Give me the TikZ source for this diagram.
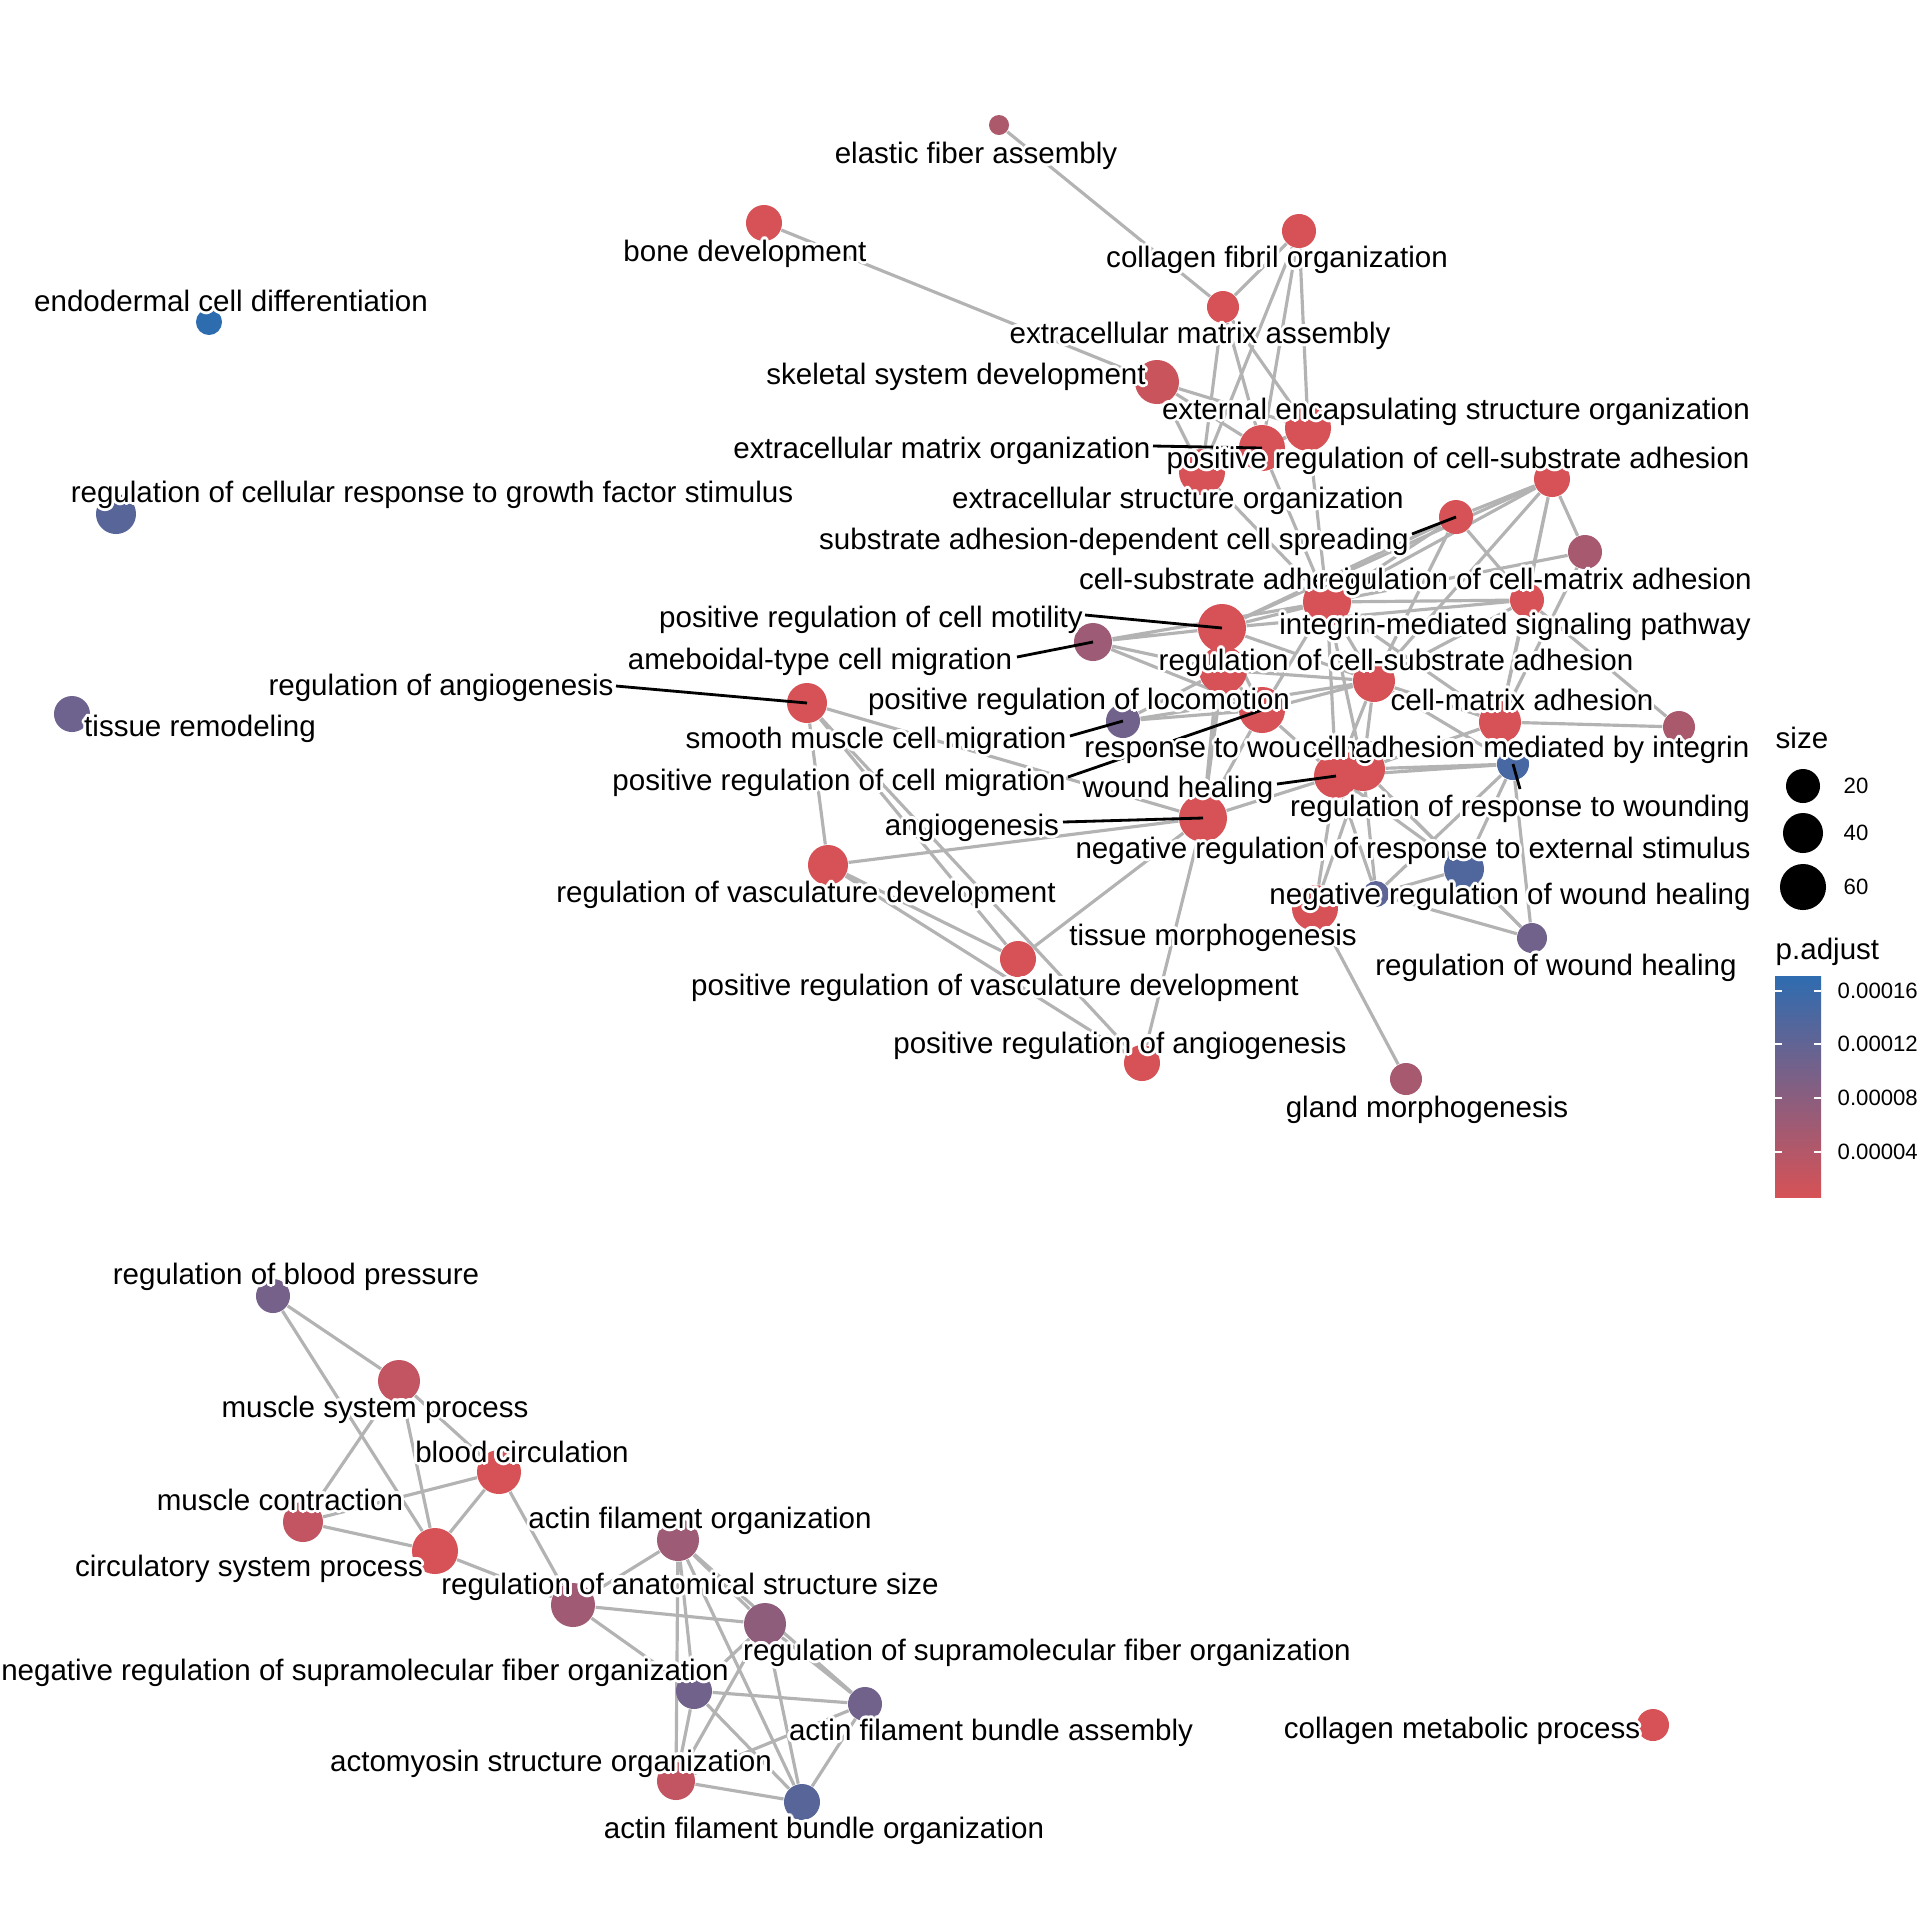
\documentclass[tikz,border=0pt]{standalone}
\usepackage{fontspec}
\setmainfont{Liberation Sans}
\usepackage[copies]{contour}
\contourlength{0.8pt}
\usetikzlibrary{backgrounds}
\definecolor{plow}{RGB}{214,82,86}
\definecolor{phigh}{RGB}{46,108,176}
\definecolor{edgegray}{RGB}{179,179,179}
\newcommand{\halo}[1]{\contour{white}{#1}}

\begin{document}
\begin{tikzpicture}[x=0.01cm, y=-0.01cm,
        gonode/.style 2 args={circle, fill=#1, inner sep=0pt, minimum size=#2*0.02cm},
        edge/.style={draw=edgegray, line width=0.9pt},
        leader/.style={draw=black, line width=0.8pt},
        golabel/.style={font=\fontsize{8.4}{10}\selectfont, inner sep=0pt, text height=6pt, text depth=1.6pt, yshift=-1pt},
        legtext/.style={font=\fontsize{6.3}{7.5}\selectfont, inner sep=0pt, anchor=west}
    ]
        \useasboundingbox (0,0) rectangle (1920,1920);

        % Upper cluster: nodes
        \node[gonode={plow!75!phigh}{10}] (efa) at (999,125) {};
        \node[gonode={plow}{18}] (bone) at (764,223) {};
        \node[gonode={plow}{17}] (cfo) at (1299,231) {};
        \node[gonode={plow}{16}] (ema) at (1223,307) {};
        \node[gonode={plow!93!phigh}{22}] (ssd) at (1157,382) {};
        \node[gonode={plow}{23}] (eeso) at (1308,428) {};
        \node[gonode={plow}{23}] (emo) at (1262,448) {};
        \node[gonode={plow}{23}] (eso) at (1202,472) {};
        \node[gonode={plow}{18}] (prcsa) at (1552,479) {};
        \node[gonode={plow}{17}] (sadcs) at (1456,517) {};
        \node[gonode={plow!72!phigh}{17}] (rcma) at (1585,552) {};
        \node[gonode={plow}{24}] (csa) at (1327,602) {};
        \node[gonode={plow}{17}] (imsp) at (1527,600) {};
        \node[gonode={plow}{24}] (prcm) at (1222,628) {};
        \node[gonode={plow!66!phigh}{19}] (atcm) at (1093,642) {};
        \node[gonode={plow}{24}] (prl) at (1223,670) {};
        \node[gonode={plow}{21}] (rcsa) at (1374,681) {};
        \node[gonode={plow}{23}] (prcmig) at (1262,710) {};
        \node[gonode={plow}{21}] (cma) at (1500,722) {};
        \node[gonode={plow!74!phigh}{16}] (camI) at (1679,727) {};
        \node[gonode={plow!40!phigh}{17}] (smcm) at (1123,721) {};
        \node[gonode={plow}{22}] (rw) at (1363,769) {};
        \node[gonode={plow}{22}] (wh) at (1336,776) {};
        \node[gonode={plow!15!phigh}{16}] (rrw) at (1513,764) {};
        \node[gonode={plow}{24}] (ang) at (1203,818) {};
        \node[gonode={plow!20!phigh}{20}] (nrres) at (1464,869) {};
        \node[gonode={plow!28!phigh}{13}] (nrwh) at (1376,894) {};
        \node[gonode={plow}{23}] (tm) at (1315,908) {};
        \node[gonode={plow!40!phigh}{15}] (rwh) at (1532,938) {};
        \node[gonode={plow!72!phigh}{16}] (gm) at (1406,1079) {};
        \node[gonode={plow}{20}] (rang) at (807,703) {};
        \node[gonode={plow}{20}] (rvd) at (828,865) {};
        \node[gonode={plow}{18}] (prvd) at (1018,959) {};
        \node[gonode={plow}{18}] (prang) at (1142,1063) {};

        % Lone terms
        \node[gonode={phigh}{13}] (endo) at (209,322) {};
        \node[gonode={plow!25!phigh}{20}] (rcrgf) at (116,514) {};
        \node[gonode={plow!38!phigh}{18}] (trem) at (72,714) {};
        \node[gonode={plow}{16}] (cmp) at (1653,1725) {};

        % Lower cluster: nodes
        \node[gonode={plow!42!phigh}{17}] (rbp) at (273,1296) {};
        \node[gonode={plow!88!phigh}{21}] (msp) at (399,1381) {};
        \node[gonode={plow}{22}] (bc) at (499,1472) {};
        \node[gonode={plow!88!phigh}{20}] (mc) at (303,1522) {};
        \node[gonode={plow}{23}] (csp) at (435,1551) {};
        \node[gonode={plow!68!phigh}{22}] (rass) at (573,1605) {};
        \node[gonode={plow!66!phigh}{21}] (afo) at (678,1540) {};
        \node[gonode={plow!58!phigh}{21}] (rsfo) at (765,1624) {};
        \node[gonode={plow!40!phigh}{18}] (nrsfo) at (694,1691) {};
        \node[gonode={plow!40!phigh}{17}] (afba) at (865,1704) {};
        \node[gonode={plow!88!phigh}{19}] (aso) at (676,1781) {};
        \node[gonode={plow!25!phigh}{18}] (afbo) at (802,1802) {};

        % Edges behind the nodes
        \begin{pgfonlayer}{background}
            \draw[edge] (efa) -- (ema) (bone) -- (ssd);
            \draw[edge] (cfo) -- (ema) (cfo) -- (eso) (cfo) -- (emo) (cfo) -- (eeso);
            \draw[edge] (ema) -- (eso) (ema) -- (emo) (ema) -- (eeso);
            \draw[edge] (ssd) -- (emo) (ssd) -- (eso) (ssd) -- (eeso);
            \draw[edge] (eso) -- (emo) (emo) -- (eeso) (eso) -- (eeso);
            \draw[edge] (eso) -- (csa) (emo) -- (csa) (eeso) -- (csa);
            \draw[edge] (csa) -- (sadcs) (csa) -- (prcsa) (csa) -- (imsp) (csa) -- (rcma) (csa) -- (rcsa)
                (csa) -- (cma) (csa) -- (prcm) (csa) -- (prcmig) (csa) -- (wh) (csa) -- (rw);
            \draw[edge] (sadcs) -- (prcsa) (sadcs) -- (imsp) (sadcs) -- (rcsa) (sadcs) -- (prcm);
            \draw[edge] (prcsa) -- (rcma) (prcsa) -- (imsp) (prcsa) -- (rcsa) (prcsa) -- (cma) (prcsa) -- (prcm);
            \draw[edge] (rcma) -- (cma);
            \draw[edge] (imsp) -- (cma) (imsp) -- (camI) (imsp) -- (rcsa) (imsp) -- (prcm);
            \draw[edge] (cma) -- (camI) (cma) -- (rw) (cma) -- (rcsa) (cma) -- (rrw);
            \draw[edge] (rcsa) -- (prcm) (rcsa) -- (prl) (rcsa) -- (prcmig) (rcsa) -- (wh) (rcsa) -- (rw)
                (rcsa) -- (rrw) (rcsa) -- (smcm);
            \draw[edge] (prcm) -- (prl) (prcm) -- (prcmig) (prl) -- (prcmig);
            \draw[edge] (prcm) -- (ang) (prl) -- (ang) (prcmig) -- (ang);
            \draw[edge] (prcmig) -- (wh) (prcmig) -- (smcm) (prl) -- (smcm);
            \draw[edge] (atcm) -- (prcm) (atcm) -- (prl) (atcm) -- (prcmig) (atcm) -- (csa);
            \draw[edge] (ang) -- (wh) (ang) -- (rang) (ang) -- (rvd) (ang) -- (prvd) (ang) -- (prang);
            \draw[edge] (rang) -- (rvd) (rang) -- (prvd) (rang) -- (prang);
            \draw[edge] (rvd) -- (prvd) (rvd) -- (prang);
            \draw[edge] (wh) -- (rrw) (rw) -- (rrw) (wh) -- (nrres) (rw) -- (nrres) (wh) -- (nrwh)
                (rw) -- (nrwh) (wh) -- (tm) (rw) -- (tm) (rw) -- (rwh);
            \draw[edge] (rrw) -- (nrres) (rrw) -- (nrwh) (rrw) -- (rwh);
            \draw[edge] (nrres) -- (nrwh) (nrres) -- (rwh) (nrwh) -- (rwh);
            \draw[edge] (tm) -- (gm);

            \draw[edge] (rbp) -- (msp) (rbp) -- (csp);
            \draw[edge] (msp) -- (bc) (msp) -- (mc) (msp) -- (csp);
            \draw[edge] (bc) -- (mc) (bc) -- (csp) (bc) -- (rass) (mc) -- (csp) (csp) -- (rass);
            \draw[edge] (rass) -- (afo) (rass) -- (rsfo) (rass) -- (nrsfo);
            \draw[edge] (afo) -- (rsfo) (afo) -- (nrsfo) (afo) -- (aso) (afo) -- (afbo) (afo) -- (afba);
            \draw[edge] (rsfo) -- (afba) (rsfo) -- (aso) (rsfo) -- (afbo) (rsfo) -- (nrsfo);
            \draw[edge] (nrsfo) -- (afba) (nrsfo) -- (aso) (nrsfo) -- (afbo);
            \draw[edge] (afba) -- (afbo) (afba) -- (aso) (aso) -- (afbo);
        \end{pgfonlayer}

        % Leader lines
        \coordinate (emo-end) at (1153,446);
        \coordinate (sadcs-end) at (1412,534);
        \coordinate (prcm-end) at (1085,615);
        \coordinate (atcm-end) at (1017,657);
        \coordinate (rang-end) at (616,686);
        \coordinate (smcm-end) at (1070,736);
        \coordinate (prcmig-end) at (1068,777);
        \coordinate (wh-end) at (1277,784);
        \coordinate (ang-end) at (1063,822);
        \coordinate (rrw-end) at (1520,789);
        \foreach \n in {emo,sadcs,prcm,atcm,rang,smcm,prcmig,wh,ang,rrw}
            \draw[leader] (\n-end) -- (\n.center);

        % Labels
        \node[golabel] (lefa) at (976,152) {\halo{elastic fiber assembly}};
        \node[golabel] (lbone) at (745,250) {\halo{bone development}};
        \node[golabel] (lcfo) at (1277,256) {\halo{collagen fibril organization}};
        \node[golabel] (lendo) at (231,300) {\halo{endodermal cell differentiation}};
        \node[golabel] (lema) at (1200,332) {\halo{extracellular matrix assembly}};
        \node[golabel] (lssd) at (956,373) {\halo{skeletal system development}};
        \node[golabel] (leeso) at (1456,408) {\halo{external encapsulating structure organization}};
        \node[golabel] (lemo) at (942,447) {\halo{extracellular matrix organization}};
        \node[golabel] (lprcsa) at (1458,457) {\halo{positive regulation of cell-substrate adhesion}};
        \node[golabel] (lrcrgf) at (432,491) {\halo{regulation of cellular response to growth factor stimulus}};
        \node[golabel] (leso) at (1178,497) {\halo{extracellular structure organization}};
        \node[golabel] (lsadcs) at (1114,538) {\halo{substrate adhesion-dependent cell spreading}};
        \node[golabel] (lcsa) at (1231,578) {\halo{cell-substrate adhesion}};
        \node[golabel] (lrcma) at (1535,578) {\halo{regulation of cell-matrix adhesion}};
        \node[golabel] (lprcm) at (871,616) {\halo{positive regulation of cell motility}};
        \node[golabel] (limsp) at (1515,623) {\halo{integrin-mediated signaling pathway}};
        \node[golabel] (latcm) at (820,658) {\halo{ameboidal-type cell migration}};
        \node[golabel] (lrcsa) at (1396,659) {\halo{regulation of cell-substrate adhesion}};
        \node[golabel] (lrang) at (441,684) {\halo{regulation of angiogenesis}};
        \node[golabel] (lprl) at (1079,698) {\halo{positive regulation of locomotion}};
        \node[golabel] (lcma) at (1522,699) {\halo{cell-matrix adhesion}};
        \node[golabel] (ltrem) at (200,725) {\halo{tissue remodeling}};
        \node[golabel] (lsmcm) at (876,737) {\halo{smooth muscle cell migration}};
        \node[golabel] (lrw) at (1229,746) {\halo{response to wounding}};
        \node[golabel] (lcamI) at (1526,746) {\halo{cell adhesion mediated by integrin}};
        \node[golabel] (lprcmig) at (839,779) {\halo{positive regulation of cell migration}};
        \node[golabel] (lwh) at (1178,786) {\halo{wound healing}};
        \node[golabel] (lrrw) at (1520,805) {\halo{regulation of response to wounding}};
        \node[golabel] (lang) at (972,824) {\halo{angiogenesis}};
        \node[golabel] (lnrres) at (1413,847) {\halo{negative regulation of response to external stimulus}};
        \node[golabel] (lrvd) at (806,891) {\halo{regulation of vasculature development}};
        \node[golabel] (lnrwh) at (1510,893) {\halo{negative regulation of wound healing}};
        \node[golabel] (ltm) at (1213,934) {\halo{tissue morphogenesis}};
        \node[golabel] (lrwh) at (1556,964) {\halo{regulation of wound healing}};
        \node[golabel] (lprvd) at (995,984) {\halo{positive regulation of vasculature development}};
        \node[golabel] (lprang) at (1120,1042) {\halo{positive regulation of angiogenesis}};
        \node[golabel] (lgm) at (1427,1106) {\halo{gland morphogenesis}};
        \node[golabel] (lrbp) at (296,1273) {\halo{regulation of blood pressure}};
        \node[golabel] (lmsp) at (375,1406) {\halo{muscle system process}};
        \node[golabel] (lbc) at (522,1451) {\halo{blood circulation}};
        \node[golabel] (lmc) at (280,1499) {\halo{muscle contraction}};
        \node[golabel] (lafo) at (700,1517) {\halo{actin filament organization}};
        \node[golabel] (lcsp) at (249,1565) {\halo{circulatory system process}};
        \node[golabel] (lrass) at (690,1583) {\halo{regulation of anatomical structure size}};
        \node[golabel] (lrsfo) at (1047,1649) {\halo{regulation of supramolecular fiber organization}};
        \node[golabel] (lnrsfo) at (365,1669) {\halo{negative regulation of supramolecular fiber organization}};
        \node[golabel] (lcmp) at (1462,1727) {\halo{collagen metabolic process}};
        \node[golabel] (lafba) at (991,1729) {\halo{actin filament bundle assembly}};
        \node[golabel] (laso) at (551,1760) {\halo{actomyosin structure organization}};
        \node[golabel] (lafbo) at (824,1827) {\halo{actin filament bundle organization}};

        % Legend: size
        \node[legtext, font=\fontsize{8.4}{10}\selectfont] (sizetitle) at (1775,738) {size};
        \node[gonode={black}{17}] (s20) at (1803,786) {};
        \node[gonode={black}{20}] (s40) at (1803,833) {};
        \node[gonode={black}{23}] (s60) at (1803,887) {};
        \node[legtext] (t20) at (1843,786) {20};
        \node[legtext] (t40) at (1843,833) {40};
        \node[legtext] (t60) at (1843,887) {60};

        % Legend: p.adjust
        \node[legtext, font=\fontsize{8.4}{10}\selectfont] (ptitle) at (1775,952) {p.adjust};
        \shade[bottom color=plow, top color=phigh] (1775,976) rectangle (1821,1197);
        \foreach \y/\v in {991/0.00016, 1044/0.00012, 1098/0.00008, 1152/0.00004} {
            \draw[white, line width=0.6pt] (1775,\y) -- (1782,\y) (1814,\y) -- (1821,\y);
            \node[legtext] at (1837,\y) {\v};
        }
    \end{tikzpicture}
\end{document}
